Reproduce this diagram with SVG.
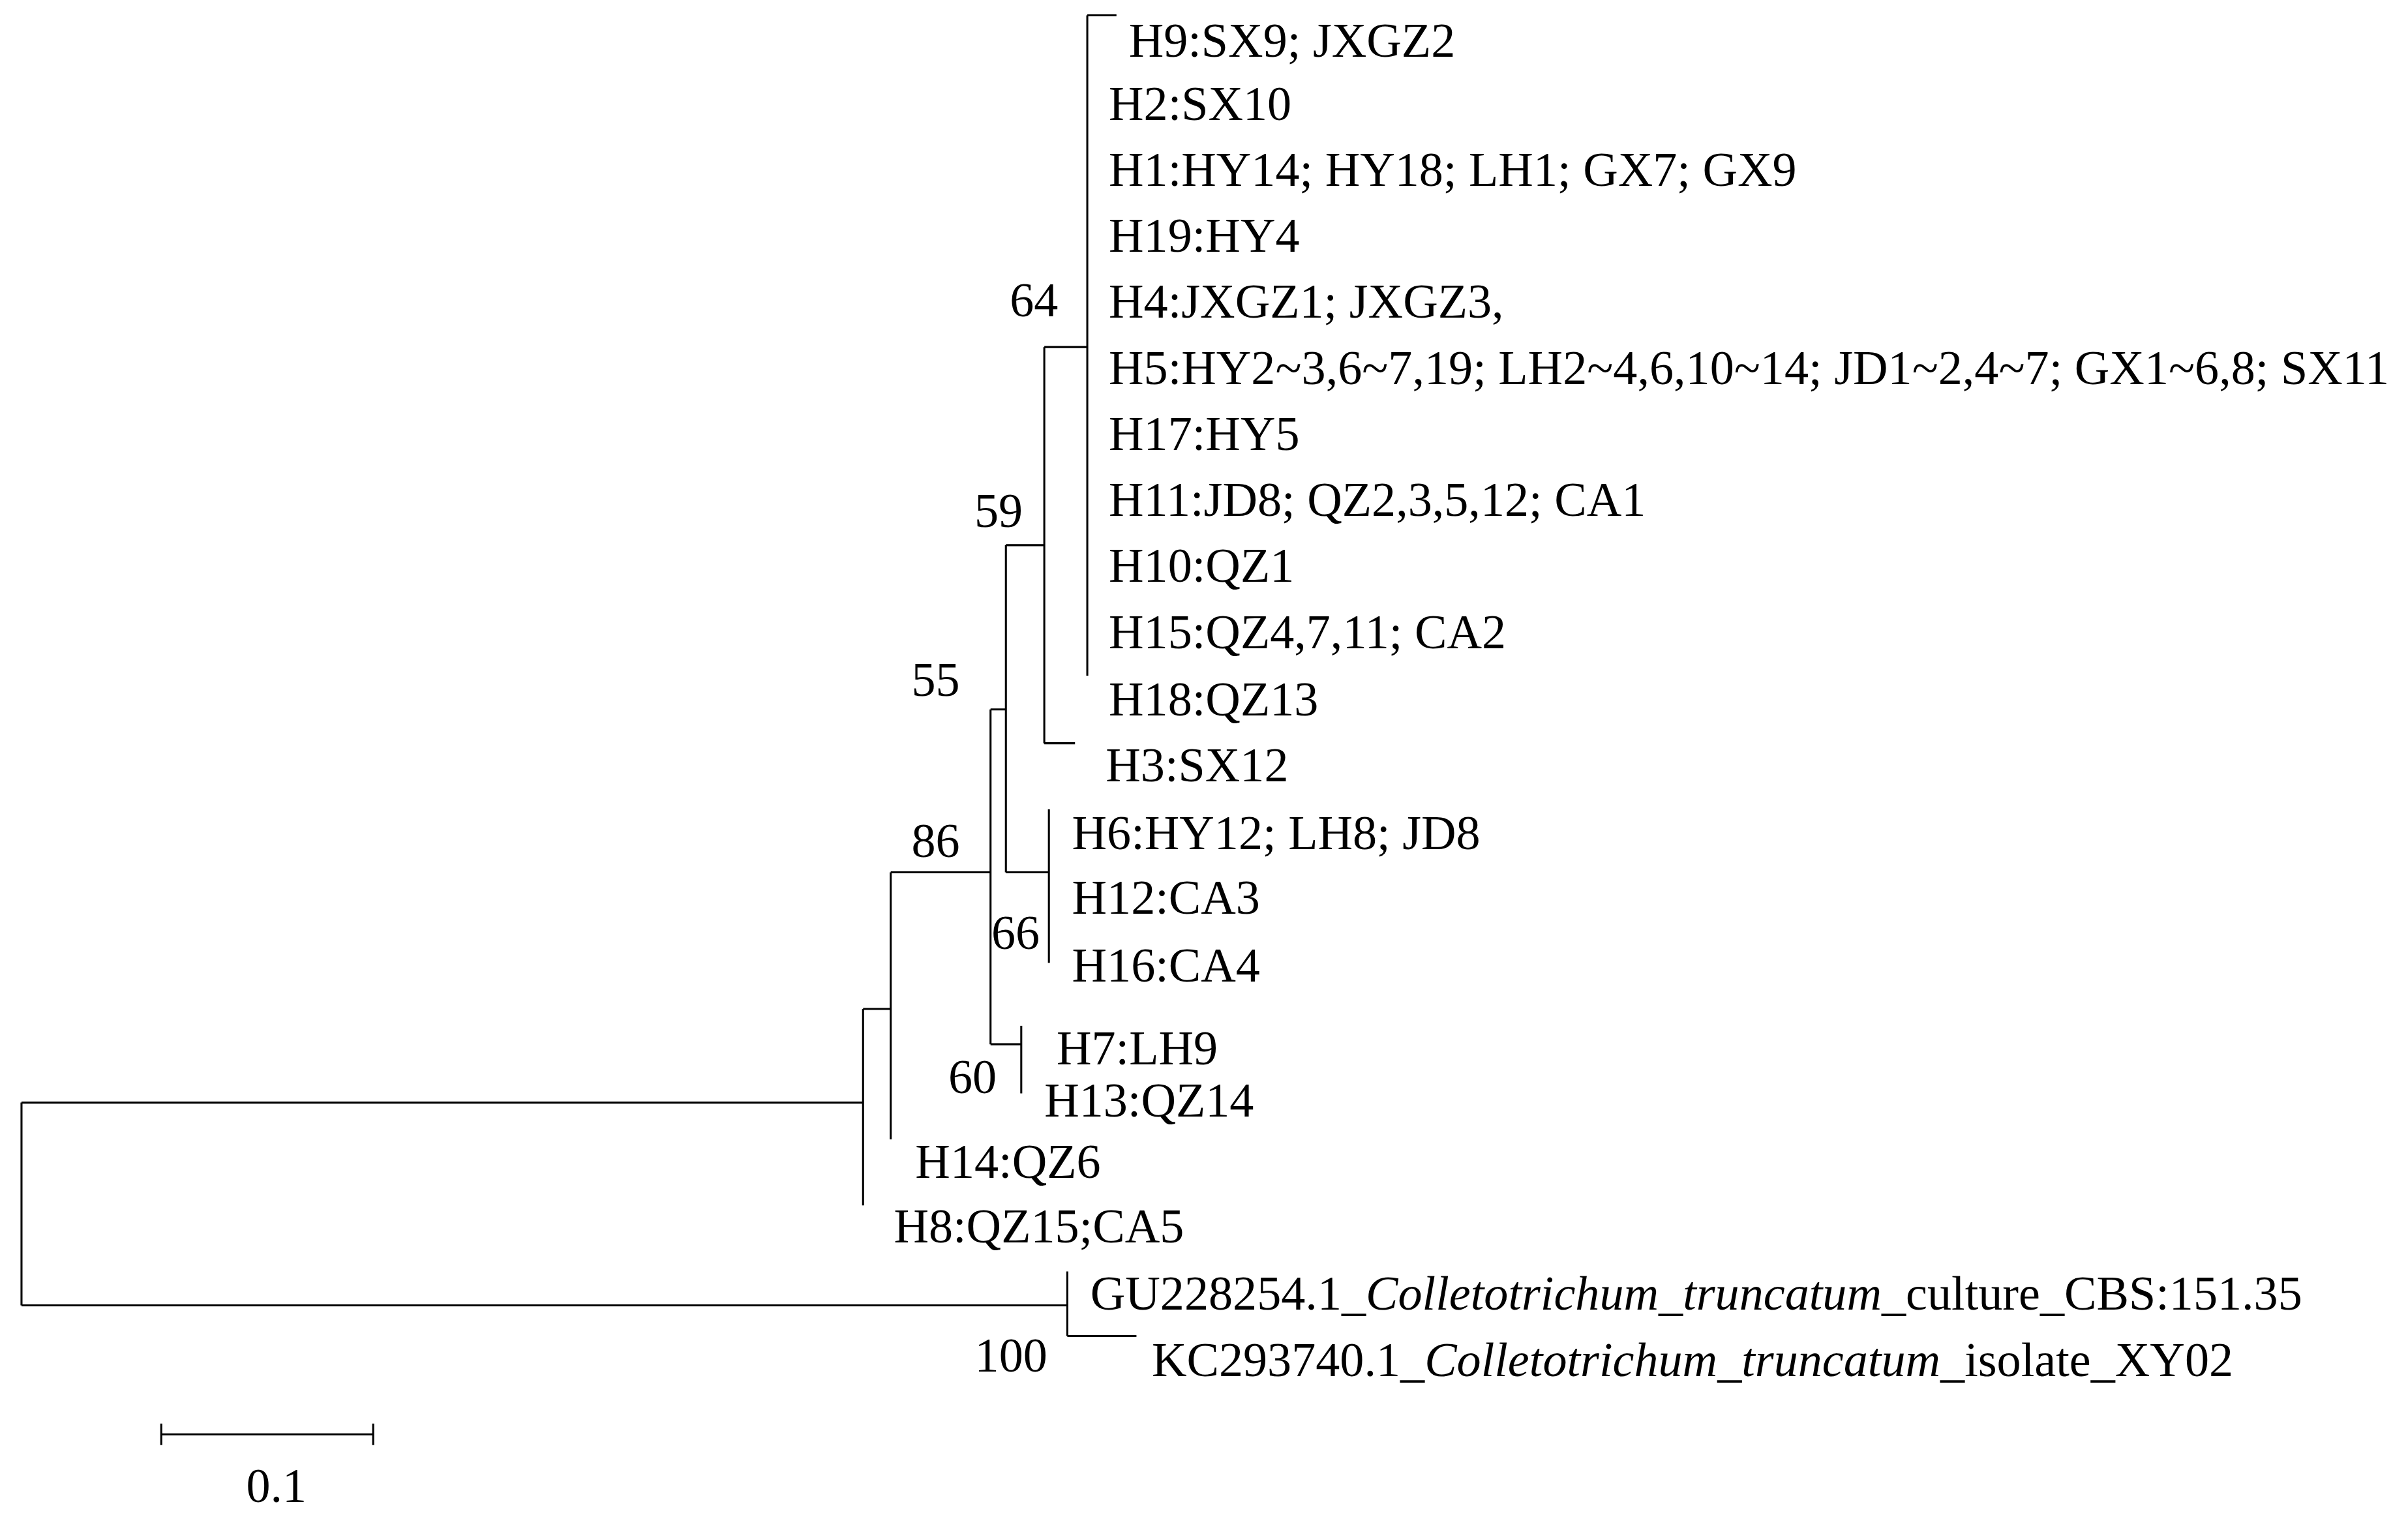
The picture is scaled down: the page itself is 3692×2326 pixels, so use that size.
<svg xmlns="http://www.w3.org/2000/svg" width="3692" height="2326" viewBox="0 0 3692 2326">
<style>
.l{fill:none;stroke:#000;stroke-width:1.3}
text{font-family:"Liberation Serif","Times New Roman",serif;font-size:31.5px;fill:#000}
.b{text-anchor:end}
</style>
<rect width="3692" height="2326" fill="#fff"/>
<g transform="scale(2.3546)">
<g id="connectors">
<path class="l" d="M14,718V850M14,718H562M14,850H695"/>
<path class="l" d="M562,657V785M562,657H580"/>
<path class="l" d="M580,568V742M580,568H645"/>
<path class="l" d="M645,462V680M645,462H655M645,680H665"/>
<path class="l" d="M665,668V712"/>
<path class="l" d="M655,355V568M655,355H680M655,568H683"/>
<path class="l" d="M683,527V627"/>
<path class="l" d="M680,226V484M680,226H708M680,484H700"/>
<path class="l" d="M708,10V440M708,10H727"/>
<path class="l" d="M695,828V870M695,870H740"/>
<path class="l" d="M105,934H243M105,927V941M243,927V941"/>
</g>
<g id="labels">
<text x="735" y="37">H9:SX9; JXGZ2</text>
<text x="722" y="78">H2:SX10</text>
<text x="722" y="121">H1:HY14; HY18; LH1; GX7; GX9</text>
<text x="722" y="164">H19:HY4</text>
<text x="722" y="207">H4:JXGZ1; JXGZ3,</text>
<text x="722" y="250">H5:HY2~3,6~7,19; LH2~4,6,10~14; JD1~2,4~7; GX1~6,8; SX11</text>
<text x="722" y="293">H17:HY5</text>
<text x="722" y="336">H11:JD8; QZ2,3,5,12; CA1</text>
<text x="722" y="379">H10:QZ1</text>
<text x="722" y="422">H15:QZ4,7,11; CA2</text>
<text x="722" y="466">H18:QZ13</text>
<text x="720" y="509">H3:SX12</text>
<text x="698" y="553">H6:HY12; LH8; JD8</text>
<text x="698" y="595">H12:CA3</text>
<text x="698" y="639">H16:CA4</text>
<text x="688" y="693">H7:LH9</text>
<text x="680" y="727">H13:QZ14</text>
<text x="596" y="767">H14:QZ6</text>
<text x="582" y="809">H8:QZ15;CA5</text>
<text x="710" y="853">GU228254.1_<tspan font-style="italic">Colletotrichum_truncatum</tspan>_culture_CBS:151.35</text>
<text x="750" y="896">KC293740.1_<tspan font-style="italic">Colletotrichum_truncatum</tspan>_isolate_XY02</text>
<text class="b" x="689" y="206">64</text>
<text class="b" x="666" y="343">59</text>
<text class="b" x="625" y="453">55</text>
<text class="b" x="625" y="558">86</text>
<text class="b" x="677" y="618">66</text>
<text class="b" x="649" y="712">60</text>
<text class="b" x="682" y="893">100</text>
<text x="180" y="978" text-anchor="middle">0.1</text>
</g>
</g>
</svg>
